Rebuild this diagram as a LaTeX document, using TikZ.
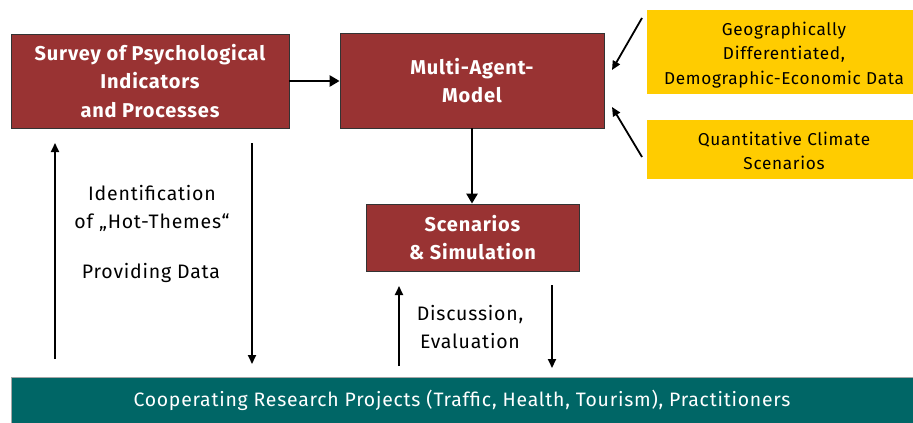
\documentclass[tikz,border=0pt]{standalone}
\usepackage{fontspec}
\setmainfont{Fira Sans}[LetterSpace=4]
\usetikzlibrary{arrows.meta}
\definecolor{boxred}{HTML}{993333}
\definecolor{boxyellow}{HTML}{FFCC00}
\definecolor{barteal}{HTML}{006666}
\tikzset{
  redbox/.style={draw=black!80, line width=0.8pt, fill=boxred, text=white,
    font=\fontsize{20}{28.5}\selectfont\bfseries, align=center, inner sep=0pt},
  yellowbox/.style={fill=boxyellow, inner sep=0pt},
  yellowtext/.style={text=black, font=\fontsize{17.2}{24.5}\selectfont,
    align=center, inner sep=0pt},
  label/.style={font=\fontsize{19.5}{28}\selectfont, align=center, inner sep=0pt},
  flow/.style={line width=2.8pt, -{Triangle[length=10pt,width=11pt]}},
  feed/.style={line width=1.8pt, -{Triangle[length=9pt,width=8pt]}},
  thin/.style={line width=1.9pt, -{Triangle[length=9pt,width=8pt]}},
}
\begin{document}
\begin{tikzpicture}[x=1pt,y=-1pt]
\useasboundingbox (0,0) rectangle (913,423);

% main boxes
\node[redbox, minimum width=278pt, minimum height=94pt] (survey) at (150,81)
  {\raisebox{-3pt}{\parbox{270pt}{\centering Survey of Psychological\\Indicators\\and Processes}}};
\node[redbox, minimum width=264pt, minimum height=95pt] (mam) at (472,80.5)
  {Multi-Agent-\\Model};
\node[redbox, minimum width=213pt, minimum height=67pt] (scen) at (472.5,237.5)
  {Scenarios\\\& Simulation};

% data sources
\node[yellowbox, minimum width=266pt, minimum height=84pt] (geo) at (780,52) {};
\node[yellowtext] (geotext) at (784,55)
  {Geographically\\Differentiated,\\Demographic-Economic Data};
\node[yellowbox, minimum width=266pt, minimum height=59pt] (clim) at (780,149.5) {};
\node[yellowtext] (climtext) at (784,151)
  {Quantitative Climate\\Scenarios};

% cooperating projects bar
\node[fill=barteal, draw=gray!70, line width=0.8pt, text=white,
  font=\fontsize{19.4}{22}\selectfont, inner sep=0pt,
  minimum width=902pt, minimum height=46pt] (coop) at (462,400)
  {Cooperating Research Projects (Traffic, Health, Tourism), Practitioners};

% main flow
\draw[flow] (survey.east) -- (survey.east -| mam.west);
\draw[flow] (mam.south) -- (mam.south |- scen.north);

% inputs into the model
\coordinate (g1) at (642,18);  \coordinate (g2) at (612,70);
\coordinate (c1) at (642,157); \coordinate (c2) at (612,107);
\draw[feed] (g1) -- (g2);
\draw[feed] (c1) -- (c2);

% survey <-> projects
\coordinate (su) at (55,143);  \coordinate (sl) at (55,359);
\coordinate (du) at (252,143); \coordinate (dl) at (252,364);
\draw[thin] (sl) -- (su);
\draw[thin] (du) -- (dl);
\node[label] (ident) at (152,208) {Identification\\of „Hot-Themes“};
\node[label] (prov) at (151,273) {Providing Data};

% scenarios <-> projects
\coordinate (eu) at (399,286); \coordinate (el) at (399,366);
\coordinate (fu) at (552,285); \coordinate (fl) at (552,368);
\draw[thin] (el) -- (eu);
\draw[thin] (fu) -- (fl);
\node[label] (disc) at (470,327) {Discussion,\\Evaluation};
\end{tikzpicture}
\end{document}
